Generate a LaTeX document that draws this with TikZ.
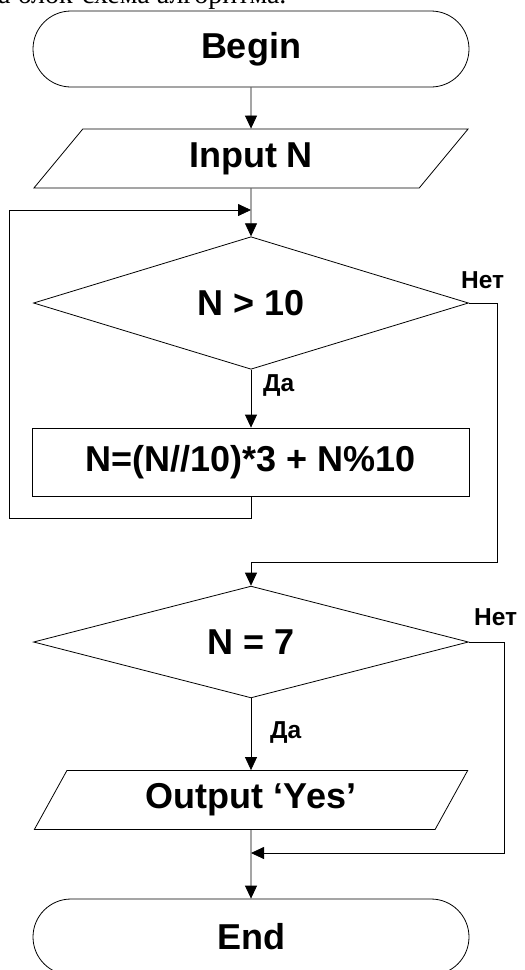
\documentclass[tikz,border=0pt]{standalone}
\usepackage{fontspec}
\setmainfont{Liberation Sans}
\newfontfamily\captionserif{Liberation Serif}
\usetikzlibrary{shapes,arrows.meta,positioning}
\newcommand{\flowfont}{\fontsize{36}{40}\selectfont\bfseries}
\newcommand{\branchfont}{\fontsize{24.5}{26}\selectfont\bfseries}

\begin{document}
\begin{tikzpicture}[x=1pt, y=-1pt,
    termbox/.style={rectangle, rounded corners=38pt, draw, line width=0.8pt, minimum width=436pt, minimum height=76pt, font=\flowfont},
    iobox/.style={trapezium, trapezium left angle=64, trapezium right angle=116, trapezium stretches=true, draw, line width=0.8pt, minimum width=435pt, minimum height=59pt, font=\flowfont},
    decbox/.style={diamond, draw, line width=0.8pt, inner sep=0pt, minimum width=435pt, minimum height=104pt, font=\flowfont},
    procbox/.style={rectangle, draw, line width=0.8pt, minimum width=437pt, minimum height=68pt, font=\flowfont},
    branch/.style={anchor=base west, inner sep=0pt, font=\branchfont},
    flowline/.style={line width=0.8pt},
    flowarrow/.style={flowline, -{Triangle[length=13pt, width=12pt]}}]
    \useasboundingbox (0,0) rectangle (525,970);

    % Caption line cut at the top
    \node[anchor=base west, inner sep=0pt, font=\captionserif\fontsize{28}{30}\selectfont] (caption) at (-2,3.5) {а блок-схема алгоритма.};

    % Blocks
    \node[termbox] (begin) at (251,49) {Begin};
    \node[iobox] (input) at (251,158.5) {Input N};
    \node[decbox] (cond1) at (251,303) {N > 10};
    \node[procbox] (calc) at (251,462) {N=(N//10)*3 + N\%10};
    \node[decbox] (cond2) at (251,642) {N = 7};
    \node[iobox] (output) at (251,800) {Output ‘Yes’};
    \node[termbox] (end) at (251,937) {End};

    % Corner points
    \coordinate (loopin) at (251,210);
    \coordinate (loopout) at (251,518);
    \coordinate (loopleft) at (9,210);
    \coordinate (noright1) at (497,562);
    \coordinate (merge1) at (251,562);
    \coordinate (noright2) at (504,853);
    \coordinate (merge2) at (251,853);

    % Arrows
    \draw[flowarrow] (begin) -- (input);
    \draw[flowarrow] (input) -- (cond1);
    \draw[flowarrow] (cond1) -- (calc);
    \draw[flowarrow] (calc.south) -- (loopout) -| (loopleft) -- (loopin);
    \draw[flowarrow] (cond1.east) -| (noright1) -- (merge1) -- (cond2.north);
    \draw[flowarrow] (cond2) -- (output);
    \draw[flowarrow] (output) -- (end);
    \draw[flowarrow] (cond2.east) -| (noright2) -- (merge2);

    % Labels
    \node[branch] (no1) at (461,288) {Нет};
    \node[branch] (yes1) at (263,391) {Да};
    \node[branch] (no2) at (474,625) {Нет};
    \node[branch] (yes2) at (270,738) {Да};
\end{tikzpicture}
\end{document}
